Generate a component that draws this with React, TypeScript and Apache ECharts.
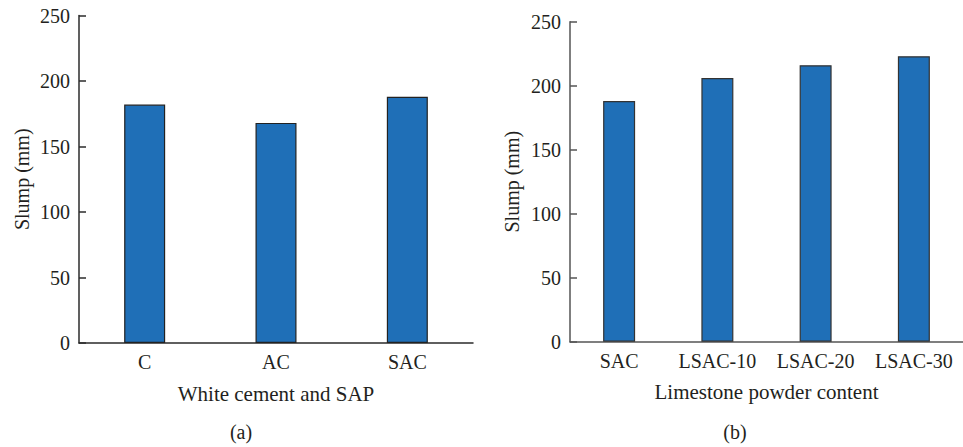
import React, { useEffect, useRef } from "react";
import * as echarts from "echarts";

// Panel (a): white cement and SAP
const catsA = ["C", "AC", "SAC"];
const slumpA = [182, 168, 188];

// Panel (b): limestone powder content
const catsB = ["SAC", "LSAC-10", "LSAC-20", "LSAC-30"];
const slumpB = [188, 206, 216, 223];

const yTicks = { min: 0, max: 250, interval: 50 };

const FONT = "Liberation Serif, DejaVu Serif, serif";
const TEXT = "#231f20";
const BAR = "#1f6fb7";

function yAxisOf(gridIndex: number, axisColor: string, gap: number) {
  return {
    type: "value",
    gridIndex,
    ...yTicks,
    name: "Slump (mm)",
    nameLocation: "middle",
    nameGap: gap,
    nameTextStyle: { fontFamily: FONT, fontSize: 20, color: TEXT },
    axisLine: { show: true, lineStyle: { color: axisColor, width: 1.5 } },
    axisTick: { show: true, inside: true, length: 7, lineStyle: { color: axisColor, width: 1.5 } },
    axisLabel: { fontFamily: FONT, fontSize: 20, color: TEXT, margin: 9 },
    splitLine: { show: false },
  };
}

function xAxisOf(gridIndex: number, data: string[], name: string, axisColor: string) {
  return {
    type: "category",
    gridIndex,
    data,
    name,
    nameLocation: "middle",
    nameGap: 40,
    nameTextStyle: { fontFamily: FONT, fontSize: 21, color: TEXT },
    axisLine: { show: true, lineStyle: { color: axisColor, width: 1.5 } },
    axisTick: { show: false },
    axisLabel: { fontFamily: FONT, fontSize: 20, color: TEXT, margin: 9, interval: 0 },
  };
}

export default function App() {
  const ref = useRef<HTMLDivElement>(null);

  useEffect(() => {
    document.body.style.margin = "0";
    if (!ref.current) return;
    const chart = echarts.init(ref.current, undefined, { renderer: "svg" });
    chart.setOption({
      animation: false,
      backgroundColor: "#ffffff",
      grid: [
        { left: 79, top: 15.5, width: 394, bottom: 104, containLabel: false },
        { left: 570, top: 21.7, width: 404, bottom: 105.3, containLabel: false },
      ],
      xAxis: [
        xAxisOf(0, catsA, "White cement and SAP", "#2b2b2b"),
        xAxisOf(1, catsB, "Limestone powder content", "#555555"),
      ],
      yAxis: [yAxisOf(0, "#2b2b2b", 47), yAxisOf(1, "#555555", 48)],
      series: [
        {
          type: "bar",
          xAxisIndex: 0,
          yAxisIndex: 0,
          data: slumpA,
          barWidth: 41,
          itemStyle: { color: BAR, borderColor: "#222222", borderWidth: 1.2 },
        },
        {
          type: "bar",
          xAxisIndex: 1,
          yAxisIndex: 1,
          data: slumpB,
          barWidth: 32,
          itemStyle: { color: BAR, borderColor: "#333333", borderWidth: 1.2 },
        },
      ],
      graphic: [
        {
          type: "text",
          x: 241,
          y: 432,
          style: { text: "(a)", font: `20px ${FONT}`, fill: TEXT, align: "center", verticalAlign: "middle" },
        },
        {
          type: "text",
          x: 735,
          y: 432,
          style: { text: "(b)", font: `20px ${FONT}`, fill: TEXT, align: "center", verticalAlign: "middle" },
        },
      ],
    });
    return () => chart.dispose();
  }, []);

  return <div ref={ref} style={{ width: 963, height: 447 }} />;
}
